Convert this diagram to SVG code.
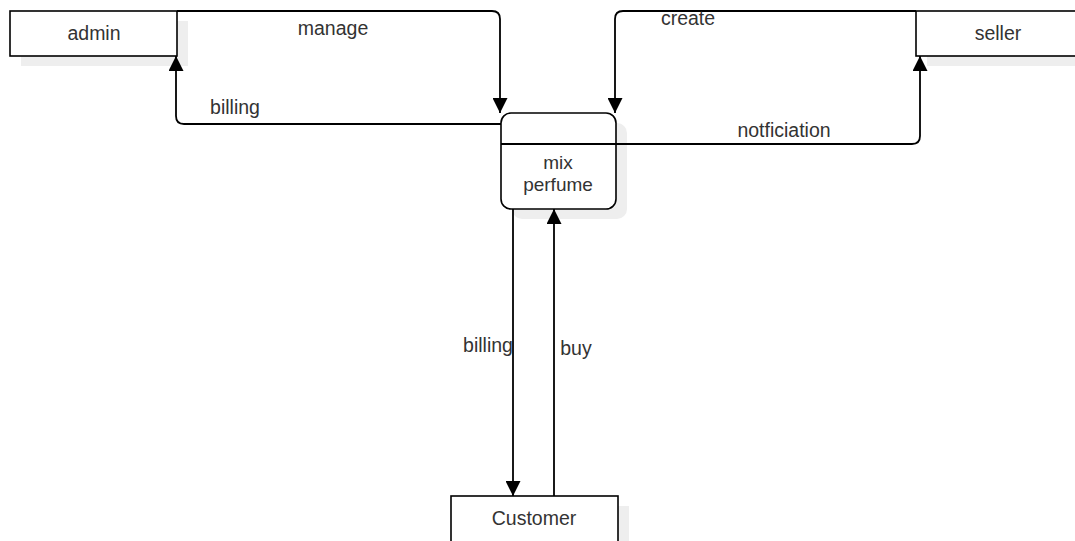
<svg xmlns="http://www.w3.org/2000/svg" width="1075" height="541" viewBox="0 0 1075 541">
  <style>
    .box { fill: #ffffff; stroke: #000000; stroke-width: 1.6; }
    .shadow { fill: #eeeeee; stroke: none; }
    .link { fill: none; stroke: #000000; stroke-width: 1.8; }
    .lbl { font-family: "Liberation Sans", Arial, sans-serif; font-size: 19.5px; fill: #333333; }
    .small { font-size: 19px; }
    .mid { text-anchor: middle; }
  </style>
  <defs>
    <marker id="arrow" viewBox="0 0 15 15" refX="15" refY="7.5" markerWidth="15" markerHeight="15" markerUnits="userSpaceOnUse" orient="auto">
      <path d="M0,0 L15,7.5 L0,15 Z" fill="#000000"/>
    </marker>
  </defs>
  <rect width="1075" height="541" fill="#ffffff"/>

  <!-- external entities and process -->
  <g id="admin">
    <rect class="shadow" x="21" y="21" width="167" height="45"/>
    <rect class="box" x="10" y="11" width="167" height="45"/>
    <text class="lbl mid" x="94" y="40">admin</text>
  </g>
  <g id="seller">
    <rect class="shadow" x="927" y="21" width="167" height="45"/>
    <rect class="box" x="916" y="11" width="167" height="45"/>
    <text class="lbl mid" x="998" y="40">seller</text>
  </g>
  <g id="customer">
    <rect class="shadow" x="462" y="506" width="167" height="45"/>
    <rect class="box" x="451" y="496" width="167" height="55"/>
    <text class="lbl mid" x="534" y="525">Customer</text>
  </g>
  <g id="mix-perfume">
    <rect class="shadow" x="512" y="123" width="115" height="96" rx="10"/>
    <rect class="box" x="501" y="113" width="115" height="96" rx="10"/>
    <line class="link" x1="501" y1="144" x2="616" y2="144"/>
    <text class="lbl small mid" x="558" y="169">mix</text>
    <text class="lbl small mid" x="558" y="190.5">perfume</text>
  </g>

  <!-- data flows -->
  <g id="connectors">
    <path class="link" marker-end="url(#arrow)" d="M177,11 H492 Q500,11 500,19 V113"/>
    <path class="link" marker-end="url(#arrow)" d="M501,124 H184 Q176,124 176,116 V56"/>
    <path class="link" marker-end="url(#arrow)" d="M916,11 H623 Q615,11 615,19 V113"/>
    <path class="link" marker-end="url(#arrow)" d="M616,144 H912 Q920,144 920,136 V56"/>
    <path class="link" marker-end="url(#arrow)" d="M513,209 V496"/>
    <path class="link" marker-end="url(#arrow)" d="M554,496 V209"/>
    <text class="lbl mid" x="333" y="35">manage</text>
    <text class="lbl mid" x="235" y="114">billing</text>
    <text class="lbl mid" x="688" y="25">create</text>
    <text class="lbl mid" x="784" y="137">notficiation</text>
    <text class="lbl mid" x="488" y="352">billing</text>
    <text class="lbl mid" x="576" y="355">buy</text>
  </g>
</svg>
